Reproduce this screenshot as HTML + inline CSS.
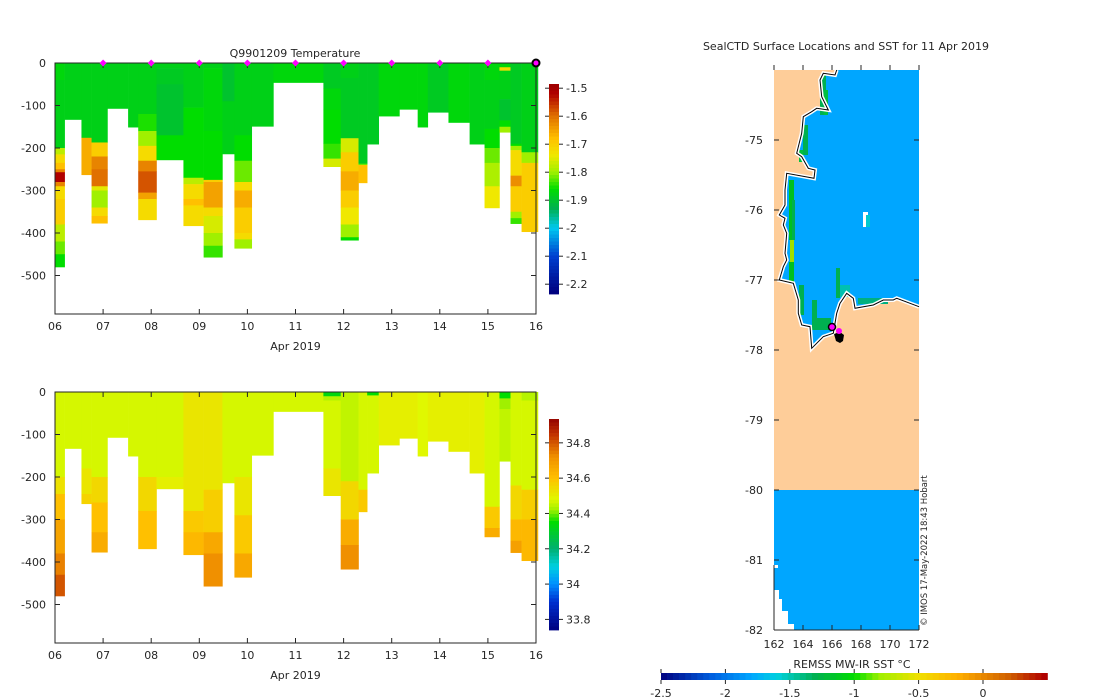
<!DOCTYPE html>
<html><head><meta charset="utf-8">
<style>
body{margin:0;background:#fff;}
svg{display:block;font-family:"DejaVu Sans","Liberation Sans",sans-serif;}
text{fill:#262626;font-size:11px;}
</style></head>
<body>
<svg id="root" width="1100" height="700" viewBox="0 0 1100 700" xmlns="http://www.w3.org/2000/svg">
<g id="top"></g>
<g id="bot"></g>
<g id="map"></g>
</svg>
<script>
// ---- profile data (days since 06 Apr 2019) ----
const colStart=[0,0.2,0.55,0.76,1.09,1.52,1.73,2.11,2.67,3.09,3.48,3.73,4.09,4.54,5.58,5.94,6.31,6.49,6.73,7.16,7.54,7.75,8.18,8.62,8.93,9.24,9.47,9.70];
const colEnd=[0.2,0.55,0.76,1.09,1.52,1.73,2.11,2.67,3.09,3.48,3.73,4.09,4.54,5.58,5.94,6.31,6.49,6.73,7.16,7.54,7.75,8.18,8.62,8.93,9.24,9.47,9.70,10.04];
const maxDepth=[480,133,263,377,107,151,369,228,383,457,214,436,149,46,244,417,282,191,125,109,151,116,140,191,341,163,378,397];
const tempProfiles=[
[[0,-1.87],[40,-1.88],[200,-1.78],[215,-1.72],[235,-1.68],[250,-1.62],[257,-1.52],[280,-1.62],[290,-1.72],[320,-1.7],[380,-1.78],[420,-1.82],[450,-1.86]],
[[0,-1.88]],
[[0,-1.88],[176,-1.66]],
[[0,-1.88],[187,-1.7],[220,-1.62],[250,-1.6],[290,-1.75],[300,-1.8],[340,-1.72],[360,-1.68]],
[[0,-1.88]],
[[0,-1.88]],
[[0,-1.88],[120,-1.85],[160,-1.8],[195,-1.72],[230,-1.62],[255,-1.58],[305,-1.65],[320,-1.72]],
[[0,-1.88],[12,-1.89],[50,-1.9],[170,-1.86]],
[[0,-1.88],[105,-1.86],[270,-1.78],[285,-1.72],[320,-1.68],[335,-1.72]],
[[0,-1.88],[12,-1.87],[160,-1.86],[275,-1.7],[280,-1.65],[340,-1.72],[360,-1.76],[400,-1.8],[430,-1.84]],
[[0,-1.9],[90,-1.88]],
[[0,-1.88],[170,-1.86],[230,-1.82],[280,-1.72],[300,-1.66],[340,-1.7],[400,-1.72],[415,-1.8]],
[[0,-1.88]],
[[0,-1.87]],
[[0,-1.89],[60,-1.87],[110,-1.86],[190,-1.84],[225,-1.76]],
[[0,-1.88],[35,-1.89],[177,-1.76],[210,-1.7],[255,-1.66],[300,-1.7],[340,-1.74],[380,-1.8],[410,-1.86]],
[[0,-1.89],[237,-1.82],[240,-1.68]],
[[0,-1.89]],
[[0,-1.87]],
[[0,-1.87]],
[[0,-1.87]],
[[0,-1.89]],
[[0,-1.87]],
[[0,-1.88]],
[[0,-1.87],[40,-1.88],[155,-1.86],[200,-1.82],[235,-1.79],[290,-1.74]],
[[0,-1.87],[10,-1.72],[18,-1.88],[85,-1.9],[135,-1.86],[150,-1.8]],
[[0,-1.89],[190,-1.86],[195,-1.8],[205,-1.72],[265,-1.63],[290,-1.7],[350,-1.8],[365,-1.84]],
[[0,-1.88],[210,-1.8],[235,-1.7]]
];
const salProfiles=[
[[0,34.47],[200,34.53],[240,34.6],[300,34.67],[380,34.74],[430,34.8]],
[[0,34.47]],
[[0,34.47],[180,34.52],[240,34.56]],
[[0,34.47],[200,34.55],[260,34.6],[330,34.65]],
[[0,34.47]],
[[0,34.47]],
[[0,34.47],[200,34.55],[280,34.6]],
[[0,34.47],[200,34.5]],
[[0,34.52],[280,34.58],[330,34.62]],
[[0,34.52],[230,34.57],[330,34.66],[380,34.72]],
[[0,34.47]],
[[0,34.47],[200,34.52],[290,34.58],[380,34.66]],
[[0,34.47]],
[[0,34.47]],
[[0,34.33],[10,34.44],[20,34.47],[180,34.52]],
[[0,34.45],[210,34.55],[300,34.65],[360,34.72]],
[[0,34.47],[230,34.58]],
[[0,34.35],[8,34.47]],
[[0,34.5]],
[[0,34.5]],
[[0,34.48]],
[[0,34.5]],
[[0,34.5]],
[[0,34.5]],
[[0,34.47],[270,34.58],[320,34.65]],
[[0,34.35],[15,34.42],[40,34.45]],
[[0,34.47],[220,34.55],[300,34.62],[350,34.68]],
[[0,34.44],[20,34.47],[230,34.57],[300,34.62]]
];
const markerDays=[1,2,3,4,5,6,7,8,9];
const xTickLabels=["06","07","08","09","10","11","12","13","14","15","16"];
const depthTicks=[0,-100,-200,-300,-400,-500];
const tempCbTicks=[-1.5,-1.6,-1.7,-1.8,-1.9,-2,-2.1,-2.2];
const salCbTicks=[34.8,34.6,34.4,34.2,34,33.8];
const sstTicks=[-2.5,-2,-1.5,-1,-0.5,0];
const lonTicks=[162,164,166,168,170,172];
const latTicks=[-75,-76,-77,-78,-79,-80,-81,-82];

const NS="http://www.w3.org/2000/svg";
function mk(p,tag,attrs){const e=document.createElementNS(NS,tag);for(const k in attrs)e.setAttribute(k,attrs[k]);p.appendChild(e);return e;}
function hex(c){return [parseInt(c.slice(1,3),16),parseInt(c.slice(3,5),16),parseInt(c.slice(5,7),16)];}
function cmap(stops,v){
  if(v<=stops[0][0])return stops[0][1];
  for(let i=1;i<stops.length;i++){if(v<=stops[i][0]){const a=hex(stops[i-1][1]),b=hex(stops[i][1]);const t=(v-stops[i-1][0])/(stops[i][0]-stops[i-1][0]);return "rgb("+a.map((x,j)=>Math.round(x+(b[j]-x)*t)).join(",")+")";}}
  return stops[stops.length-1][1];
}
const tStops=[[-2.23,"#00007f"],[-2.1,"#0040d0"],[-2.0,"#00c8f0"],[-1.93,"#00b050"],[-1.86,"#00dd00"],[-1.80,"#a0f000"],[-1.74,"#f0e800"],[-1.68,"#ffc000"],[-1.60,"#e07000"],[-1.52,"#b00000"],[-1.48,"#990000"]];
const sStops=[[33.74,"#00007f"],[33.9,"#0030d0"],[34.0,"#0090ff"],[34.1,"#00d0e0"],[34.2,"#00b070"],[34.35,"#00dd00"],[34.42,"#a0f000"],[34.48,"#e0f800"],[34.6,"#ffc000"],[34.72,"#f09000"],[34.85,"#c03000"],[34.94,"#900000"]];
const sstStops=[[-2.5,"#00007f"],[-2.1,"#0060e0"],[-1.8,"#00a6ff"],[-1.6,"#00d0e0"],[-1.3,"#00b050"],[-1.0,"#00dd00"],[-0.8,"#a0f000"],[-0.5,"#f0e000"],[-0.2,"#ffb000"],[0.2,"#d06000"],[0.48,"#b00000"]];

function section(g,top,bottomAx,profiles,stops,cbTop,cbBot,cbMax,cbMin,cbTicks,title,markers){
  const x0=55,x1=536,y0=top,yb=bottomAx,ppm=42.5/100;
  const X=d=>x0+(x1-x0)*d/10, Y=z=>y0+(-z)*ppm;
  for(let c=0;c<profiles.length;c++){
    const pr=profiles[c];
    for(let k=0;k<pr.length;k++){
      const dTop=pr[k][0], dBot=k+1<pr.length?pr[k+1][0]:maxDepth[c];
      const r=mk(g,"rect",{x:X(colStart[c]),y:Y(-dTop),width:X(colEnd[c])-X(colStart[c])+0.3,height:(dBot-dTop)*ppm+0.3,fill:cmap(stops,pr[k][1])});
      
      
    }
  }
  const box=mk(g,"rect",{x:x0,y:y0,width:x1-x0,height:yb-y0,fill:"none",stroke:"#262626","stroke-width":1});
  
  xTickLabels.forEach((l,i)=>{const x=X(i);
    mk(g,"line",{x1:x,x2:x,y1:yb,y2:yb-5,stroke:"#262626"});mk(g,"line",{x1:x,x2:x,y1:y0,y2:y0+5,stroke:"#262626"});
    const t=mk(g,"text",{x:x,y:yb+16,"text-anchor":"middle"});t.textContent=l;
    });
  depthTicks.forEach(v=>{const y=Y(v);
    mk(g,"line",{x1:x0,x2:x0+5,y1:y,y2:y,stroke:"#262626"});mk(g,"line",{x1:x1,x2:x1-5,y1:y,y2:y,stroke:"#262626"});
    const t=mk(g,"text",{x:x0-9,y:y+4,"text-anchor":"end"});t.textContent=v;
    });
  const xl=mk(g,"text",{x:(x0+x1)/2,y:yb+36,"text-anchor":"middle"});xl.textContent="Apr 2019";
  
  if(title){const t=mk(g,"text",{x:295,y:57,"text-anchor":"middle"});t.textContent=title;
    }
  if(markers){markerDays.forEach(d=>{const m=mk(g,"path",{d:`M${X(d)-3.5},${y0} L${X(d)},${y0-3.5} L${X(d)+3.5},${y0} L${X(d)},${y0+3.5}Z`,fill:"#ff00ff"});
      });
    const m=mk(g,"circle",{cx:X(10),cy:y0,r:3.5,fill:"#ff00ff",stroke:"#000","stroke-width":2});
    }
  const cb=mk(g,"g",{});
  const n=60,h=(cbBot-cbTop)/n;
  for(let i=0;i<n;i++){const v=cbMax-(cbMax-cbMin)*(i+0.5)/n;mk(cb,"rect",{x:549,y:cbTop+i*h,width:10,height:h+0.4,fill:cmap(stops,v)});}
  cbTicks.forEach(v=>{const y=cbTop+(cbMax-v)/(cbMax-cbMin)*(cbBot-cbTop);
    mk(cb,"line",{x1:559,x2:563,y1:y,y2:y,stroke:"#262626"});mk(cb,"line",{x1:545,x2:549,y1:y,y2:y,stroke:"#262626"});
    const t=mk(cb,"text",{x:566,y:y+4});t.textContent=v;
    });
}
section(document.getElementById("top"),63,314,tempProfiles,tStops,84,294,-1.485,-2.235,tempCbTicks,"Q9901209  Temperature",true);
section(document.getElementById("bot"),392,643,salProfiles,sStops,419,630,34.935,33.74,salCbTicks,null,false);

// ---- map ----
const mg=document.getElementById("map");
const mx0=774,mx1=919,my0=70,my1=630;
const LX=lon=>mx0+(lon-162)*(mx1-mx0)/10;
mk(mg,"rect",{x:mx0,y:my0,width:mx1-mx0,height:420,fill:"#fecd99"});
const coast=[[836.7,70],[835,75],[823.3,73.3],[820,80],[821.7,96.7],[828.3,110],[816.7,108.3],[811.7,111.7],[803.3,116.7],[801.7,133.3],[796.7,153.3],[801.7,156.7],[808.3,168.3],[815,170],[814,178.3],[786.7,173.3],[785,190],[785,205],[779.3,215],[785,218.3],[783.3,225],[786.7,233.3],[785,253.3],[786.7,260],[783.3,266.7],[779.3,280],[793.3,283.3],[798.3,300],[798.3,313.3],[801.7,325],[810,326.7],[811.7,348.3],[823.3,336.7],[833.3,333.3],[836.7,313.3],[840,303.3],[846.7,293.3],[853.3,298.3],[855,308.3],[873.3,305],[883.3,300],[893.3,300],[896.7,298.3],[919,306.7],[919,70]];
const pts=coast.map(p=>p.join(",")).join(" ");
const oc=mk(mg,"polygon",{points:pts,fill:"#00a6ff"});
[[820,75,6,40,"#00b050"],[824,90,4,25,"#00c040"],[803,125,5,30,"#00b050"],[799,150,4,12,"#00c040"],[789,180,5,60,"#00c020"],[792,200,3,40,"#00b050"],[790,240,4,30,"#a0e000"],[789,262,5,20,"#00c020"],[799,285,5,30,"#00b050"],[812,300,5,30,"#00b050"],[815,318,16,12,"#00b050"],[836,268,4,30,"#00b050"],[840,285,10,12,"#00c0b0"],[858,298,30,6,"#00b080"],[863,212,5,15,"#fff"],[866,215,4,12,"#00c8d0"]].forEach(r=>{
  const e=mk(mg,"rect",{x:r[0],y:r[1],width:r[2],height:r[3],fill:r[4]});});
const cw=mk(mg,"polyline",{points:coast.slice(0,coast.length-1).map(p=>p.join(",")).join(" "),fill:"none",stroke:"#fff","stroke-width":4});

const cl=mk(mg,"polyline",{points:coast.slice(0,coast.length-1).map(p=>p.join(",")).join(" "),fill:"none",stroke:"#000","stroke-width":1});

const south=mk(mg,"polygon",{points:"774,490 919,490 919,630 794,630 794,624 788,624 788,611 782,611 782,599 779,599 779,590 774,590 774,568 778,568 778,565 774,565",fill:"#00a6ff"});

mk(mg,"line",{x1:mx0,x2:mx0,y1:565,y2:630,stroke:"#262626"});
mk(mg,"line",{x1:mx0,x2:mx1,y1:630,y2:630,stroke:"#262626"});
const blob=mk(mg,"path",{d:"M834,334 l6,-2 l4,3 l-1,6 l-3,2 l-4,-2 z",fill:"#000"});
const m1=mk(mg,"circle",{cx:832,cy:327,r:3.5,fill:"#ff00ff",stroke:"#000","stroke-width":1.5});
const m2=mk(mg,"circle",{cx:839,cy:331,r:3,fill:"#ff00ff"});
lonTicks.forEach(v=>{const x=LX(v);mk(mg,"line",{x1:x,x2:x,y1:630,y2:625,stroke:"#262626"});mk(mg,"line",{x1:x,x2:x,y1:65,y2:70,stroke:"#262626"});
  const t=mk(mg,"text",{x:x,y:648,"text-anchor":"middle"});t.textContent=v;});
latTicks.forEach(v=>{const y=70+(-74-v)*70;mk(mg,"line",{x1:774,x2:779,y1:y,y2:y,stroke:"#262626"});mk(mg,"line",{x1:919,x2:914,y1:y,y2:y,stroke:"#262626"});
  const t=mk(mg,"text",{x:763,y:y+4,"text-anchor":"end"});t.textContent=v;});
const mt=mk(mg,"text",{x:846,y:50,"text-anchor":"middle"});mt.textContent="SealCTD Surface Locations and SST for 11 Apr 2019";
const cr=mk(mg,"text",{x:0,y:0,transform:"translate(927,626) rotate(-90)",style:"font-size:8.5px"});cr.textContent="© IMOS 17-May-2022 18:43 Hobart";
const sl=mk(mg,"text",{x:852,y:668,"text-anchor":"middle"});sl.textContent="REMSS MW-IR SST °C";
const sb=mk(mg,"g",{});
const SX=v=>661+(v+2.5)*(983-661)/2.5;
for(let i=0;i<64;i++){const v=-2.5+3*(i+0.5)/64;mk(sb,"rect",{x:SX(-2.5+3*i/64),y:673,width:(SX(0.5)-SX(-2.5))/64+0.4,height:7,fill:cmap(sstStops,v)});}
sstTicks.forEach(v=>{const x=SX(v);mk(sb,"line",{x1:x,x2:x,y1:680,y2:684,stroke:"#262626"});mk(sb,"line",{x1:x,x2:x,y1:669,y2:673,stroke:"#262626"});
  const t=mk(sb,"text",{x:x,y:697,"text-anchor":"middle"});t.textContent=v;});
</script>
</body></html>
